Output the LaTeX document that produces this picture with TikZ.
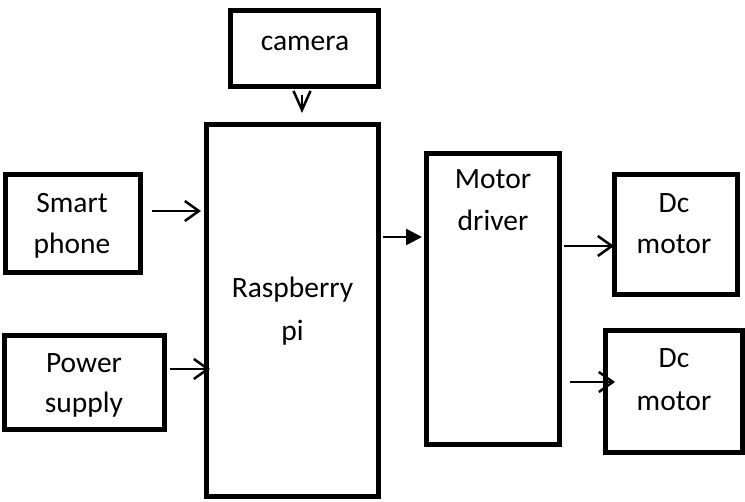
\documentclass[tikz,border=0pt]{standalone}
\usepackage{fontspec}
\setmainfont{Carlito}
\usetikzlibrary{arrows.meta,calc}
\tikzset{
  box/.style={draw, rectangle, line width=5pt, inner sep=0pt},
  txt/.style={anchor=base, inner sep=0pt, font=\fontsize{29.5}{35}\selectfont},
  arr/.style={line width=2.5pt, -{Straight Barb[length=14pt,width=20pt,line width=2.5pt]}},
  arrv/.style={line width=2.5pt, -{Straight Barb[length=19pt,width=17pt,line width=2.5pt]}},
  arrf/.style={line width=2.5pt, -{Triangle[length=16pt,width=16pt]}}
}
\begin{document}
\begin{tikzpicture}[x=1pt,y=-1pt]
\useasboundingbox (0,0) rectangle (745,502);
% boxes
\node[box, minimum width=148pt, minimum height=76pt] (cam) at (304.5,48.5) {};
\node[box, minimum width=172pt, minimum height=372pt] (rpi) at (292.5,310.5) {};
\node[box, minimum width=135pt, minimum height=98pt] (sp) at (73,223.5) {};
\node[box, minimum width=160pt, minimum height=94pt] (ps) at (84.5,382.5) {};
\node[box, minimum width=133pt, minimum height=291pt] (md) at (493,299) {};
\node[box, minimum width=123pt, minimum height=120pt] (dca) at (676,234.5) {};
\node[box, minimum width=137pt, minimum height=122pt] (dcb) at (674,391.5) {};
% texts
\node[txt] (tcam) at (305,51) {camera};
\node[txt] (tsp1) at (72,213) {Smart};
\node[txt] (tsp2) at (72,254) {phone};
\node[txt] (tps1) at (84,373) {Power};
\node[txt] (tps2) at (84,413) {supply};
\node[txt] (trp1) at (292.5,298) {Raspberry};
\node[txt] (trp2) at (292.5,341) {pi};
\node[txt] (tmd1) at (493,189) {Motor};
\node[txt] (tmd2) at (493,231) {driver};
\node[txt] (tda1) at (674,213) {Dc};
\node[txt] (tda2) at (674,254) {motor};
\node[txt] (tdb1) at (674,368) {Dc};
\node[txt] (tdb2) at (674,411) {motor};
% connectors
\draw[arrv] ($(cam.south -| 302,0)+(0,6)$) -- ($(rpi.north -| 302,0)+(0,-9)$);
\draw[arr] ($(sp.east |- 0,211)+(9,0)$) -- ($(rpi.west |- 0,211)+(-3,0)$);
\draw[arr] ($(ps.east |- 0,369)+(3,0)$) -- ($(rpi.west |- 0,369)+(6,0)$);
\draw[arrf] ($(rpi.east |- 0,237)+(2,0)$) -- ($(md.west |- 0,237)+(-2,0)$);
\draw[arr] ($(md.east |- 0,246)+(2,0)$) -- ($(dca.west |- 0,246)+(2,0)$);
\draw[arr] ($(md.east |- 0,382)+(8,0)$) -- ($(dcb.west |- 0,382)+(12,0)$);
\end{tikzpicture}
\end{document}
